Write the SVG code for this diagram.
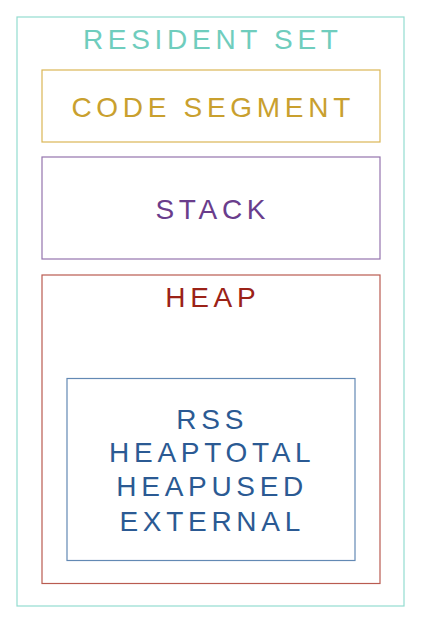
<svg xmlns="http://www.w3.org/2000/svg" width="421" height="629" viewBox="0 0 421 629">
<style>
rect{fill:none;stroke-width:1.2}
text{font-family:"Liberation Sans",Arial,Helvetica,sans-serif;font-size:28px;letter-spacing:4.7px;text-anchor:middle}
</style>
<rect x="0" y="0" width="421" height="629" style="fill:#fff;stroke:none"/>
<g id="resident-set">
<rect x="17" y="17" width="387" height="589" stroke="#93dcd0"/>
<text x="212.8" y="49.3" fill="#6fcdbd">RESIDENT SET</text>
</g>
<g id="code-segment">
<rect x="42" y="70" width="338" height="72" stroke="#dbb655"/>
<text x="213.2" y="116.7" fill="#c9a02e">CODE SEGMENT</text>
</g>
<g id="stack">
<rect x="42" y="157" width="338" height="102" stroke="#9474ad"/>
<text x="212.8" y="219.3" fill="#6a3d8c">STACK</text>
</g>
<g id="heap">
<rect x="42" y="275" width="338" height="308.5" stroke="#b95b50"/>
<text x="212.8" y="306.7" fill="#9b2217">HEAP</text>
</g>
<g id="memory-usage">
<rect x="67" y="378.5" width="288" height="182" stroke="#6389b4"/>
<text x="212.2" y="429" fill="#2b5a93">RSS</text>
<text x="212.2" y="462.3" fill="#2b5a93">HEAPTOTAL</text>
<text x="212.2" y="495.7" fill="#2b5a93">HEAPUSED</text>
<text x="212.2" y="530.7" fill="#2b5a93">EXTERNAL</text>
</g>
<g id="connectors"></g>
</svg>
